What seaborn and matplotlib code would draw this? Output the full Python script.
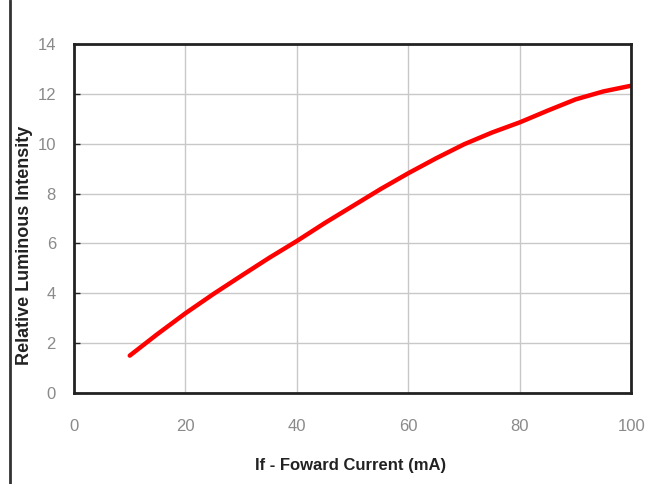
import numpy as np
import pandas as pd
import matplotlib.pyplot as plt
import seaborn as sns
from matplotlib.lines import Line2D

# values
current_ma = [10, 15, 20, 25, 30, 35, 40, 45, 50, 55, 60, 65, 70, 75, 80, 85, 90, 95, 100]
rel_intensity = [1.5, 2.37, 3.2, 3.97, 4.7, 5.42, 6.1, 6.82, 7.5, 8.18, 8.82, 9.42,
                 9.98, 10.45, 10.86, 11.33, 11.78, 12.1, 12.33]
x_ticks = [0, 20, 40, 60, 80, 100]
y_ticks = [0, 2, 4, 6, 8, 10, 12, 14]

df = pd.DataFrame({'If': current_ma, 'Iv': rel_intensity})

sns.set_theme(style="white")
plt.rcParams['font.family'] = ['Liberation Sans', 'DejaVu Sans']

fig = plt.figure(figsize=(6.58, 4.84), dpi=100)
ax = fig.add_axes([0.1125, 0.188, 0.847, 0.721])

sns.lineplot(data=df, x='If', y='Iv', ax=ax, color='#ff0000', linewidth=3.2, errorbar=None)

ax.set_xlim(0, 100)
ax.set_ylim(0, 14)
ax.set_xticks(x_ticks)
ax.set_yticks(y_ticks)
ax.grid(True, color='#c8c8c8', linewidth=1)
ax.set_axisbelow(True)
for s in ax.spines.values():
    s.set_color('#222222')
    s.set_linewidth(2)
ax.tick_params(axis='y', direction='in', length=4, width=1, colors='#222222',
               labelcolor='#8a8a8a', labelsize=12, pad=13, left=True)
ax.tick_params(axis='x', length=0, labelcolor='#8a8a8a', labelsize=12, pad=19)

ax.set_xlabel('If - Foward Current (mA)', fontsize=12, fontweight='bold', color='#222222')
ax.set_ylabel('Relative Luminous Intensity', fontsize=13, fontweight='bold', color='#222222')
ax.xaxis.set_label_coords(0.496, -0.186)
ax.yaxis.set_label_coords(-0.073, 0.424)

fig.add_artist(Line2D([10 / 658, 10 / 658], [0, 1], color='#333333', linewidth=2, transform=fig.transFigure))

fig.savefig('out.png', dpi=100)
